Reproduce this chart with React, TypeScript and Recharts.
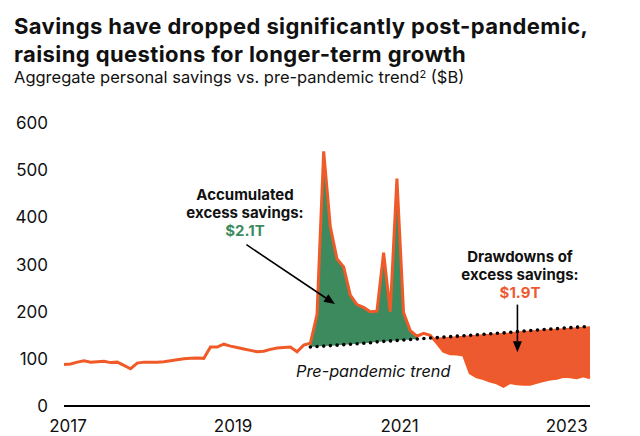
import { Area, ComposedChart, Line, ReferenceLine, XAxis, YAxis } from 'recharts';

const FONT = 'Inter, "Liberation Sans", Arial, sans-serif';
const LINE_COLOR = '#f05a28';
const SURPLUS_COLOR = '#3e8a5f';
const DRAWDOWN_COLOR = '#ee5a2f';

// month index 0 = Jan 2017
const yearLabels = ['2017', '2019', '2021', '2023'];
const yearTickMonths = [0.6, 25.4, 50.4, 75.5];
const savingsTicks = [0, 100, 200, 300, 400, 500, 600];

// aggregate personal savings, $B (monthly)
const savings2017to2020 = [
  88, 89, 93, 96, 93, 94, 95, 92, 93, 86, 79, 91, 93, 93, 93, 94, 96, 98, 100, 101, 102,
  101, 125, 125, 131, 127, 124, 121, 118, 115, 116, 120, 123, 124, 125, 115, 129, 133,
];
const savingsPandemic = [194, 540, 380, 312, 295, 235, 215, 209, 200, 201, 325, 200, 482, 198, 160, 148];
const savingsDrawdown = [
  154, 150, 134, 116, 111, 110, 108, 70, 62, 58, 53, 49, 42, 50, 47, 46, 46, 50, 54, 57, 59, 63, 62, 60, 64, 60,
];

// pre-pandemic trend, from Feb 2020 onwards
const trendStartMonth = 37;
const trendValues = [
  125, 126, 127, 128, 129, 130, 131, 132, 133, 134, 136, 137, 138, 139, 140, 141, 142, 143, 144, 145, 146, 147,
  148, 149, 150, 151, 152, 153, 154, 155, 156, 158, 159, 160, 161, 162, 163, 164, 165, 166, 167, 168, 169,
];

const surplusMonths = [37, 53];
const drawdownMonths = [55, 79];

const savings = [...savings2017to2020, ...savingsPandemic, ...savingsDrawdown];

const chartData = savings.map((actual, m) => {
  const trend = m >= trendStartMonth ? trendValues[m - trendStartMonth] : null;
  const surplus =
    trend != null && m >= surplusMonths[0] && m <= surplusMonths[1] ? [trend, Math.max(actual, trend)] : null;
  const drawdown =
    trend != null && m >= drawdownMonths[0] && m <= drawdownMonths[1] ? [Math.min(actual, trend), trend] : null;
  return { m, actual, trend, surplus, drawdown };
});

function Arrow(props: any) {
  const { x1, y1, x2, y2 } = props;
  const angle = Math.atan2(y2 - y1, x2 - x1);
  const len = 11;
  const half = 4.5;
  const bx = x2 - len * Math.cos(angle);
  const by = y2 - len * Math.sin(angle);
  const px = -Math.sin(angle) * half;
  const py = Math.cos(angle) * half;
  return (
    <g>
      <line x1={x1} y1={y1} x2={bx} y2={by} stroke="#000" strokeWidth={1.6} />
      <polygon points={`${x2},${y2} ${bx + px},${by + py} ${bx - px},${by - py}`} fill="#000" />
    </g>
  );
}

const noteStyle: React.CSSProperties = {
  position: 'absolute',
  fontFamily: FONT,
  fontWeight: 700,
  fontSize: 15,
  lineHeight: '17.8px',
  textAlign: 'center',
  color: '#111',
  width: 160,
};

export default function App() {
  return (
    <div style={{ position: 'absolute', left: 0, top: 0, width: 640, height: 436, background: '#fff', fontFamily: FONT }}>
      <div
        style={{
          position: 'absolute',
          left: 14,
          top: 12,
          fontSize: 22,
          fontWeight: 700,
          letterSpacing: 0.4,
          lineHeight: '28px',
          color: '#111',
          whiteSpace: 'nowrap',
        }}
      >
        Savings have dropped significantly post-pandemic,
        <br />
        raising questions for longer-term growth
      </div>
      <div style={{ position: 'absolute', left: 14, top: 68.5, fontSize: 16.5, lineHeight: '16px', color: '#111', whiteSpace: 'nowrap' }}>
        Aggregate personal savings vs. pre-pandemic trend<sup style={{ fontSize: 11, verticalAlign: 'top', lineHeight: '10px' }}>2</sup> ($B)
      </div>

      <ComposedChart
        width={640}
        height={436}
        data={chartData}
        margin={{ top: 123, right: 50, bottom: 0, left: 0 }}
        style={{ position: 'absolute', left: 0, top: 0 }}
      >
        <XAxis
          dataKey="m"
          type="number"
          domain={[0, 79]}
          ticks={yearTickMonths}
          tickFormatter={(v: number) => yearLabels[yearTickMonths.indexOf(v)]}
          height={30}
          axisLine={{ stroke: '#000', strokeWidth: 2 }}
          tickLine={false}
          tickMargin={8}
          tick={{ fill: '#111', fontSize: 17, fontFamily: FONT }}
          interval={0}
        />
        <YAxis
          domain={[0, 600]}
          ticks={savingsTicks}
          width={64}
          axisLine={false}
          tickLine={false}
          tickMargin={10}
          tick={{ fill: '#111', fontSize: 17, fontFamily: FONT }}
        />
        <Area
          dataKey="surplus"
          stroke="none"
          fill={SURPLUS_COLOR}
          fillOpacity={1}
          isAnimationActive={false}
          type="linear"
        />
        <Area
          dataKey="drawdown"
          stroke="none"
          fill={DRAWDOWN_COLOR}
          fillOpacity={1}
          isAnimationActive={false}
          type="linear"
        />
        <Line
          dataKey="actual"
          stroke={LINE_COLOR}
          strokeWidth={3}
          dot={false}
          type="linear"
          isAnimationActive={false}
        />
        <Line
          dataKey="trend"
          stroke="#000"
          strokeWidth={3.6}
          strokeDasharray="0 6.7"
          strokeLinecap="round"
          dot={false}
          type="linear"
          isAnimationActive={false}
        />
        <ReferenceLine segment={[{ x: 27.4, y: 342 }, { x: 40.7, y: 216 }]} shape={Arrow} ifOverflow="visible" />
        <ReferenceLine segment={[{ x: 68.1, y: 215 }, { x: 68.1, y: 114 }]} shape={Arrow} ifOverflow="visible" />
      </ComposedChart>

      <div style={{ ...noteStyle, left: 165, top: 186 }}>
        Accumulated
        <br />
        excess savings:
        <br />
        <span style={{ color: SURPLUS_COLOR }}>$2.1T</span>
      </div>
      <div style={{ ...noteStyle, left: 440, top: 248 }}>
        Drawdowns of
        <br />
        excess savings:
        <br />
        <span style={{ color: DRAWDOWN_COLOR }}>$1.9T</span>
      </div>
      <div
        style={{
          position: 'absolute',
          left: 296,
          top: 361,
          fontSize: 16.3,
          lineHeight: '20px',
          fontStyle: 'italic',
          color: '#111',
          whiteSpace: 'nowrap',
        }}
      >
        Pre-pandemic trend
      </div>
    </div>
  );
}
